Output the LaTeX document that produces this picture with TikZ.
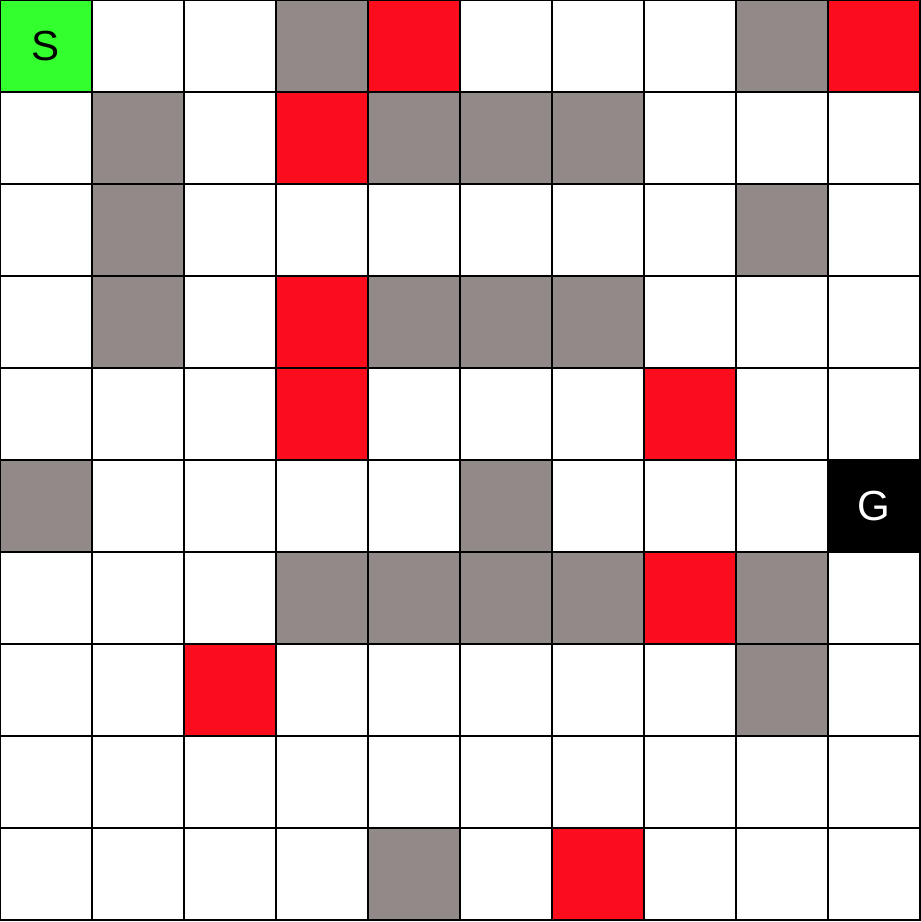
\documentclass[tikz,border=0pt]{standalone}
\usepackage{fontspec}
\setmainfont{Liberation Sans}
\definecolor{startgreen}{HTML}{33FF2E}
\definecolor{wallgray}{HTML}{918A89}
\definecolor{trapred}{HTML}{FB0D1E}
\tikzset{
  cell/.style={rectangle, draw, line width=0.5pt, minimum size=1cm, inner sep=0pt, font=\fontsize{13}{15}\selectfont},
  wall/.style={cell, fill=wallgray},
  trap/.style={cell, fill=trapred},
}
\begin{document}
\begin{tikzpicture}
				\useasboundingbox (0,-0.02) rectangle (10,10);
				\foreach \r in {0,...,9} {
					\foreach \c in {0,...,9} {
						\node[cell, fill=white] (c\r\c) at (\c+0.5,9.5-\r) {};
					}
				}
				\node[cell, fill=startgreen] (s) at (0.5,9.5) {S};
				\node[cell, fill=black, text=white] (g) at (9.5,4.5) {G};
				\node[wall] (w1) at (3.5,9.5) {};
				\node[trap] (t1) at (4.5,9.5) {};
				\node[wall] (w2) at (8.5,9.5) {};
				\node[trap] (t2) at (9.5,9.5) {};
				\node[wall] (w3) at (1.5,8.5) {};
				\node[trap] (t3) at (3.5,8.5) {};
				\node[wall] (w4) at (4.5,8.5) {};\node[wall] (w5) at (5.5,8.5) {};\node[wall] (w6) at (6.5,8.5) {};
				\node[wall] (w7) at (1.5,7.5) {};
				\node[wall] (w8) at (8.5,7.5) {};
				\node[wall] (w9) at (1.5,6.5) {};
				\node[trap] (t4) at (3.5,6.5) {};
				\node[wall] (w10) at (4.5,6.5) {};\node[wall] (w11) at (5.5,6.5) {};\node[wall] (w12) at (6.5,6.5) {};
				\node[trap] (t5) at (3.5,5.5) {};
				\node[trap] (t6) at (7.5,5.5) {};
				\node[wall] (w13) at (0.5,4.5) {};
				\node[wall] (w14) at (5.5,4.5) {};
				\node[wall] (w15) at (3.5,3.5) {};\node[wall] (w16) at (4.5,3.5) {};\node[wall] (w17) at (5.5,3.5) {};\node[wall] (w18) at (6.5,3.5) {};
				\node[trap] (t7) at (7.5,3.5) {};
				\node[wall] (w19) at (8.5,3.5) {};
				\node[trap] (t8) at (2.5,2.5) {};
				\node[wall] (w20) at (8.5,2.5) {};
				\node[wall] (w21) at (4.5,0.5) {};
				\node[trap] (t9) at (6.5,0.5) {};
			\end{tikzpicture}
\end{document}
